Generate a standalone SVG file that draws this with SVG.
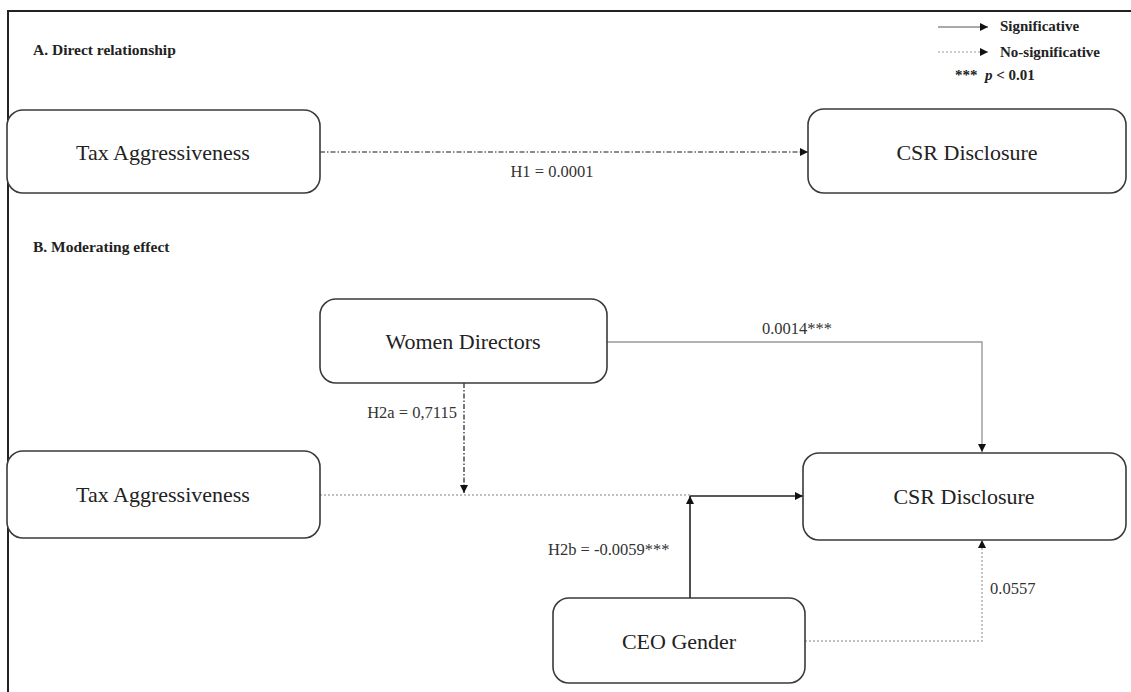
<svg xmlns="http://www.w3.org/2000/svg" width="1131" height="692" viewBox="0 0 1131 692">
<style>
.box{fill:#fff;stroke:#3a3a3a;stroke-width:1.6}
.lbl{font-family:"Liberation Serif","Times New Roman",serif;font-size:22px;fill:#222;text-anchor:middle;dominant-baseline:central}
.elbl{font-family:"Liberation Serif","Times New Roman",serif;font-size:16.5px;fill:#333}
.head{font-family:"Liberation Serif","Times New Roman",serif;font-size:15.5px;font-weight:bold;fill:#222}
.leg{font-family:"Liberation Serif","Times New Roman",serif;font-size:15px;font-weight:bold;fill:#222}
.c{fill:none}
</style>
<defs>
<marker id="ah" viewBox="0 0 10 10" refX="10" refY="5" markerWidth="8" markerHeight="8" markerUnits="userSpaceOnUse" orient="auto">
<path d="M0,0 L10,5 L0,10 Z" fill="#111"/>
</marker>
</defs>
<rect width="1131" height="692" fill="#fff"/>
<path d="M8,692 V11 H1131" fill="none" stroke="#222" stroke-width="2"/>
<text class="head" x="33" y="55">A. Direct relationship</text>
<text class="head" x="33" y="252">B. Moderating effect</text>
<g id="legend">
<line x1="938" y1="27" x2="988" y2="27" stroke="#555" stroke-width="1.2" marker-end="url(#ah)"/>
<text class="leg" x="1000" y="31">Significative</text>
<line x1="938" y1="52" x2="988" y2="52" stroke="#999" stroke-width="1.2" stroke-dasharray="2 2" marker-end="url(#ah)"/>
<text class="leg" x="1000" y="57">No-significative</text>
<text class="leg" x="955" y="80">***</text>
<text class="leg" x="985" y="80"><tspan font-style="italic">p</tspan> &lt; 0.01</text>
</g>
<g id="connectors">
<path class="c" d="M320,152 H808" stroke="#666" stroke-width="1.6" stroke-dasharray="5 2 1.5 2" marker-end="url(#ah)"/>
<text class="elbl" x="552" y="177" text-anchor="middle">H1 = 0.0001</text>
<path class="c" d="M607,342 H982 V452" stroke="#999" stroke-width="1.4" marker-end="url(#ah)"/>
<text class="elbl" x="797" y="334" text-anchor="middle">0.0014***</text>
<path class="c" d="M464,383 V493" stroke="#555" stroke-width="1.6" stroke-dasharray="5 2 1.5 2" marker-end="url(#ah)"/>
<text class="elbl" x="457" y="418" text-anchor="end">H2a = 0,7115</text>
<path class="c" d="M320,495 H690" stroke="#aaa" stroke-width="1.4" stroke-dasharray="2 2"/>
<path class="c" d="M690,598 V496" stroke="#222" stroke-width="1.6" marker-end="url(#ah)"/>
<path class="c" d="M690,496 H803" stroke="#222" stroke-width="1.6" marker-end="url(#ah)"/>
<text class="elbl" x="548" y="555">H2b = -0.0059***</text>
<path class="c" d="M805,641 H982 V540" stroke="#aaa" stroke-width="1.4" stroke-dasharray="2 2" marker-end="url(#ah)"/>
<text class="elbl" x="990" y="594">0.0557</text>
</g>
<g id="tax-a"><rect class="box" x="7" y="110" width="313" height="83" rx="16"/><text class="lbl" x="163" y="152">Tax Aggressiveness</text></g>
<g id="csr-a"><rect class="box" x="808" y="109" width="318" height="84" rx="16"/><text class="lbl" x="967" y="152">CSR Disclosure</text></g>
<g id="women"><rect class="box" x="320" y="299" width="287" height="84" rx="16"/><text class="lbl" x="463" y="341">Women Directors</text></g>
<g id="tax-b"><rect class="box" x="7" y="451" width="313" height="87" rx="16"/><text class="lbl" x="163" y="494">Tax Aggressiveness</text></g>
<g id="csr-b"><rect class="box" x="803" y="453" width="323" height="87" rx="16"/><text class="lbl" x="964" y="496">CSR Disclosure</text></g>
<g id="ceo"><rect class="box" x="553" y="598" width="252" height="85" rx="16"/><text class="lbl" x="679" y="641">CEO Gender</text></g>
</svg>
